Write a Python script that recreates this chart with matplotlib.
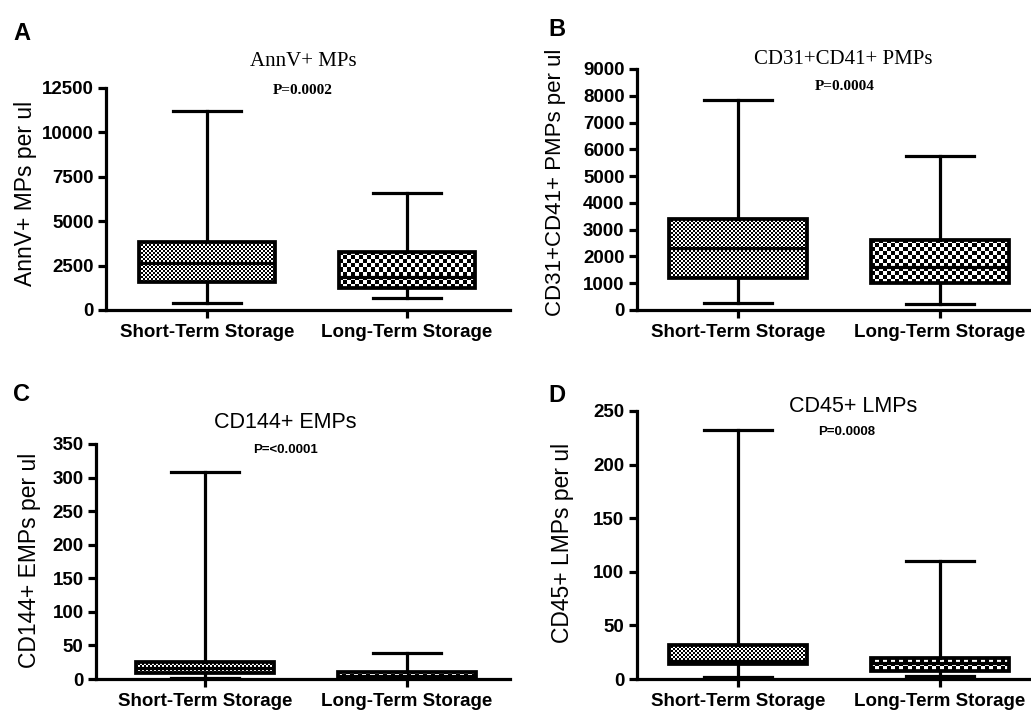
import numpy as np
import matplotlib
matplotlib.use('Agg')
import matplotlib.pyplot as plt

W, H = 1031, 713

groups = ['Short-Term Storage', 'Long-Term Storage']

# five-number summaries: (min, q1, median, q3, max)
annv_short = (375, 1600, 2650, 3850, 11200)
annv_long = (690, 1220, 1870, 3280, 6600)
pmp_short = (275, 1180, 2300, 3400, 7850)
pmp_long = (210, 1000, 1620, 2620, 5750)
emp_short = (1, 9, 16, 26, 308)
emp_long = (0, 1, 4, 10, 38)
lmp_short = (1.5, 14, 17, 32, 232)
lmp_long = (3, 7, 15, 19.5, 110)

annv_ticks = [0, 2500, 5000, 7500, 10000, 12500]
pmp_ticks = [0, 1000, 2000, 3000, 4000, 5000, 6000, 7000, 8000, 9000]
emp_ticks = [0, 50, 100, 150, 200, 250, 300, 350]
lmp_ticks = [0, 50, 100, 150, 200, 250]

plt.rcParams['font.family'] = ['Liberation Sans', 'DejaVu Sans']
LW = 2.3

fig = plt.figure(figsize=(W / 100, H / 100), dpi=100)


def px_axes(left, top, width, height):
    return fig.add_axes([left / W, 1 - (top + height) / H, width / W, height / H])


def ftext(x, y, s, **kw):
    fig.text(x / W, 1 - y / H, s, ha='center', va='center', **kw)


def checker(ax, patch, cell):
    # checkerboard fill clipped to the box, cell size in pixels
    ext = patch.get_path().get_extents()
    (x0, y0), (x1, y1) = ax.transData.transform([[ext.x0, ext.y0], [ext.x1, ext.y1]])
    nx = max(int(round((x1 - x0) / cell)), 1)
    ny = max(int(round((y1 - y0) / cell)), 1)
    arr = np.add.outer(np.arange(ny), np.arange(nx)) % 2
    im = ax.imshow(arr, cmap='gray', vmin=0, vmax=1, interpolation='nearest',
                   extent=(ext.x0, ext.x1, ext.y0, ext.y1), aspect='auto', zorder=1.5)
    im.set_clip_path(patch)


def panel(rect, xlim, ticks, short, long_, cells):
    ax = px_axes(*rect)
    ax.set_xlim(*xlim)
    ax.set_ylim(ticks[0], ticks[-1])
    stats = []
    for s in (short, long_):
        lo, q1, med, q3, hi = s
        stats.append(dict(whislo=lo, q1=q1, med=med, q3=q3, whishi=hi, fliers=[]))
    bp = ax.bxp(stats, positions=[1, 2], widths=0.68, patch_artist=True,
                showfliers=False,
                boxprops=dict(facecolor='none', edgecolor='black', linewidth=LW + 0.4, zorder=2),
                medianprops=dict(color='black', linewidth=LW, zorder=3),
                whiskerprops=dict(color='black', linewidth=LW),
                capprops=dict(color='black', linewidth=LW))
    for patch, cell in zip(bp['boxes'], cells):
        checker(ax, patch, cell)
    ax.set_xlim(*xlim)
    ax.set_ylim(ticks[0], ticks[-1])
    ax.set_yticks(ticks)
    ax.set_xticks([1, 2])
    ax.set_xticklabels(groups)
    for side in ('top', 'right'):
        ax.spines[side].set_visible(False)
    for side in ('left', 'bottom'):
        ax.spines[side].set_linewidth(LW)
    ax.tick_params(axis='both', length=6, width=LW, direction='out')
    ax.tick_params(axis='y', labelsize=13.5, pad=3)
    ax.tick_params(axis='x', labelsize=13.5, pad=4)
    for lab in ax.get_xticklabels() + ax.get_yticklabels():
        lab.set_fontweight('bold')
    return ax


panel((106, 88, 404, 222), (0.495, 2.515), annv_ticks, annv_short, annv_long, (2, 4))
panel((637, 69, 404, 241), (0.5, 2.5), pmp_ticks, pmp_short, pmp_long, (2, 4))
panel((96, 444, 414, 235), (0.46, 2.51), emp_ticks, emp_short, emp_long, (2, 4))
panel((637, 411, 404, 268), (0.5, 2.5), lmp_ticks, lmp_short, lmp_long, (2, 4))

# panel letters
for x, y, s in [(22, 33, 'A'), (557, 29, 'B'), (22, 394, 'C'), (557, 396, 'D')]:
    ftext(x, y, s, fontsize=17, fontweight='bold')

# titles
ftext(303, 62, 'AnnV+ MPs', fontsize=15, family='Liberation Serif')
ftext(843, 60, 'CD31+CD41+ PMPs', fontsize=15, family='Liberation Serif')
ftext(285, 422, 'CD144+ EMPs', fontsize=15.5)
ftext(853, 407, 'CD45+ LMPs', fontsize=15.5)

# p values
ftext(303, 91, 'P=0.0002', fontsize=11, fontweight='bold', family='Liberation Serif')
ftext(845, 86, 'P=0.0004', fontsize=11, fontweight='bold', family='Liberation Serif')
ftext(285, 450, 'P=<0.0001', fontsize=9.5, fontweight='bold')
ftext(847, 432, 'P=0.0008', fontsize=9.5, fontweight='bold')

# y labels
ftext(26, 193, 'AnnV+ MPs per ul', fontsize=16.5, rotation=90)
ftext(556, 182, 'CD31+CD41+ PMPs per ul', fontsize=16, rotation=90)
ftext(30, 560, 'CD144+ EMPs per ul', fontsize=16.5, rotation=90)
ftext(563, 543, 'CD45+ LMPs per ul', fontsize=16.5, rotation=90)

fig.savefig('out.png', dpi=100)
